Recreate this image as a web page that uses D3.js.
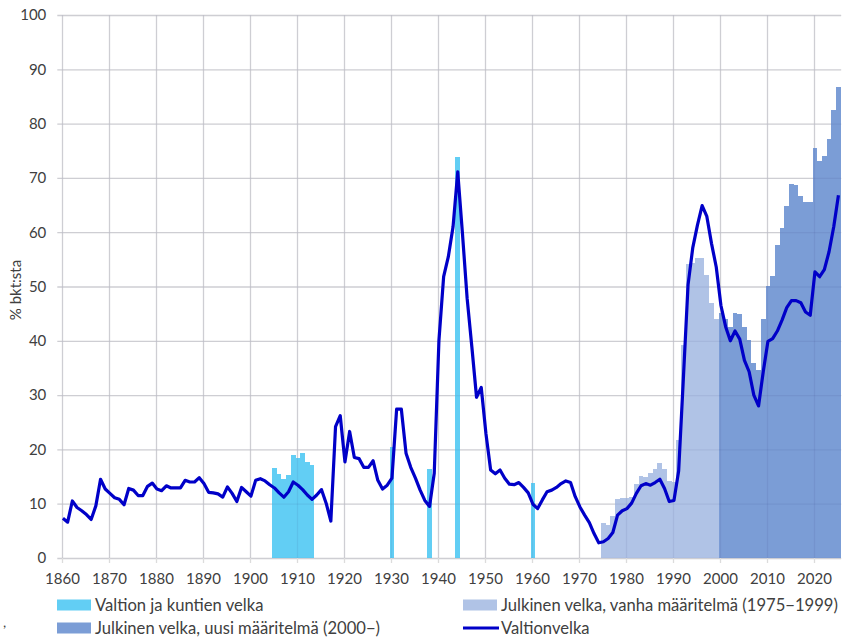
<!DOCTYPE html>
<html>
<head>
<meta charset="utf-8">
<script src="https://cdn.jsdelivr.net/npm/d3@7"></script>
<style>
  body { margin: 0; background: #fff; }
  text { font-family: Lato, "Open Sans", sans-serif; fill: #404040; }
</style>
</head>
<body>
<script>
// valtionvelka, % bkt:sta, 1860-2025
var lineStart = 1860;
var valtionvelka = [
  7.3, 6.6, 10.5, 9.3, 8.7, 8.0, 7.1, 9.6, 14.5, 12.7,
  11.9, 11.1, 10.8, 9.8, 12.8, 12.5, 11.5, 11.5, 13.2, 13.8,
  12.7, 12.4, 13.3, 12.9, 12.9, 12.9, 14.3, 14.0, 14.0, 14.8,
  13.7, 12.1, 12.0, 11.8, 11.2, 13.1, 11.9, 10.4, 13.0, 12.2,
  11.4, 14.3, 14.6, 14.2, 13.5, 12.9, 12.0, 11.2, 12.2, 14.0,
  13.4, 12.6, 11.6, 10.8, 11.6, 12.6, 10.1, 6.8, 24.2, 26.2,
  17.7, 23.3, 18.5, 18.3, 16.7, 16.7, 17.9, 14.3, 12.7, 13.4,
  14.7, 27.4, 27.4, 19.3, 16.7, 14.7, 12.5, 10.6, 9.5, 15.6,
  40.1, 51.8, 55.5, 61.0, 71.1, 59.8, 47.8, 38.9, 29.6, 31.4,
  22.9, 16.2, 15.5, 16.2, 14.7, 13.6, 13.5, 13.9, 13.0, 12.0,
  9.9, 9.1, 10.7, 12.2, 12.5, 13.0, 13.7, 14.2, 13.9, 11.3,
  9.4, 7.9, 6.5, 4.5, 2.8, 3.0, 3.6, 4.7, 7.9, 8.7,
  9.1, 10.1, 11.9, 13.3, 13.7, 13.4, 13.9, 14.5, 12.8, 10.4,
  10.6, 16.0, 33.0, 50.3, 57.1, 61.3, 64.9, 62.9, 57.9, 53.6,
  46.5, 42.6, 40.0, 41.8, 40.3, 36.4, 34.3, 30.0, 28.0, 34.3,
  39.9, 40.4, 41.8, 43.8, 46.1, 47.4, 47.4, 47.0, 45.3, 44.7,
  52.7, 51.8, 53.1, 56.4, 61.0, 66.8
];

// valtion ja kuntien velka
var kuntaYears = [1905, 1906, 1907, 1908, 1909, 1910, 1911, 1912, 1913, 1930, 1938, 1944, 1960];
var kuntaValues = [16.5, 15.5, 14.5, 15.3, 19.0, 18.4, 19.4, 17.7, 17.1, 20.4, 16.4, 73.9, 13.9];

// julkinen velka, vanha määritelmä 1975-1999
var vanhaStart = 1975;
var vanhaValues = [6.4, 6.1, 7.7, 10.9, 11.0, 11.1, 11.3, 13.7, 15.1, 15.0,
  15.7, 16.3, 17.5, 16.3, 14.2, 14.0, 21.7, 39.2, 54.2, 54.3,
  55.2, 55.3, 52.1, 46.9, 44.1];

// julkinen velka, uusi määritelmä 2000-
var uusiStart = 2000;
var uusiValues = [45.1, 44.1, 42.6, 45.2, 44.9, 42.5, 40.1, 36.0, 34.7, 44.1,
  50.1, 52.0, 57.7, 60.8, 64.8, 68.8, 68.7, 66.7, 65.5, 65.5,
  75.5, 73.2, 74.0, 77.1, 82.5, 86.7];

var xTicks = d3.range(1860, 2021, 10);
var yTicks = d3.range(0, 101, 10);

var W = 852, H = 638;
var plotLeft = 57.3, plotRight = 842.2, plotTop = 15, plotBottom = 558;

var x = d3.scaleLinear().domain([1859, 2026]).range([plotLeft, plotRight]);
var y = d3.scaleLinear().domain([0, 100]).range([plotBottom, plotTop]);

var svg = d3.select('body').append('svg')
  .attr('width', W)
  .attr('height', H);

svg.append('rect').attr('width', W).attr('height', H).attr('fill', '#fff');

// gridlines
function drawGrid(g, opacity, color) {
  g.append('g')
    .attr('transform', 'translate(' + plotLeft + ',0)')
    .call(d3.axisLeft(y).tickValues(yTicks).tickSize(-(plotRight - plotLeft - 1)).tickFormat(''))
    .call(function(s) {
      s.select('.domain').remove();
      s.selectAll('line').attr('stroke', color).attr('stroke-opacity', opacity).attr('stroke-width', 1.3);
    });
  g.append('g')
    .attr('transform', 'translate(0,' + plotBottom + ')')
    .call(d3.axisBottom(x).tickValues(xTicks).tickSize(-(plotBottom - plotTop)).tickFormat(''))
    .call(function(s) {
      s.select('.domain').remove();
      s.selectAll('line').attr('stroke', color).attr('stroke-opacity', opacity).attr('stroke-width', 1.3);
    });
}
drawGrid(svg.append('g'), 1, '#dcdcdc');

function bars(data, color) {
  svg.append('g').selectAll('rect')
    .data(data)
    .enter()
    .append('rect')
    .attr('x', function(d) { return x(d.year - 0.3); })
    .attr('width', function(d) { return x(d.year + 0.7) - x(d.year - 0.3); })
    .attr('y', function(d) { return y(d.value); })
    .attr('height', function(d) { return y(0) - y(d.value); })
    .attr('fill', color)
    .attr('shape-rendering', 'crispEdges');
}

bars(kuntaYears.map(function(yr, i) { return { year: yr, value: kuntaValues[i] }; }), '#62cef4');
bars(vanhaValues.map(function(v, i) { return { year: vanhaStart + i, value: v }; }), '#b0c3e6');
bars(uusiValues.map(function(v, i) { return { year: uusiStart + i, value: v }; }), '#7b9dd6');

// faint gridlines over bars
drawGrid(svg.append('g'), 0.07, '#202060');

// axes labels
svg.append('g')
  .attr('transform', 'translate(' + plotLeft + ',0)')
  .call(d3.axisLeft(y).tickValues(yTicks).tickSize(0).tickPadding(11))
  .call(function(s) {
    s.select('.domain').remove();
    s.selectAll('text').style('font-size', '15px').attr('fill', '#333');
  });

svg.append('g')
  .attr('transform', 'translate(0,' + plotBottom + ')')
  .call(d3.axisBottom(x).tickValues(xTicks).tickSize(5).tickPadding(10).tickFormat(d3.format('d')))
  .call(function(s) {
    s.select('.domain').remove();
    s.selectAll('line').attr('stroke', '#dcdcdc').attr('stroke-width', 1.3);
    s.selectAll('text').style('font-size', '15px').attr('fill', '#333');
  });

// valtionvelka line
var lineData = valtionvelka.map(function(v, i) { return { year: lineStart + i, value: v }; });
svg.append('path')
  .datum(lineData)
  .attr('d', d3.line()
    .x(function(d) { return x(d.year + 0.2); })
    .y(function(d) { return y(d.value); }))
  .attr('fill', 'none')
  .attr('stroke', '#0000c8')
  .attr('stroke-width', 3.2)
  .attr('stroke-linejoin', 'round');

// y title
svg.append('text')
  .attr('transform', 'translate(21,290) rotate(-90)')
  .attr('text-anchor', 'middle')
  .style('font-size', '15px')
  .attr('fill', '#333')
  .text('% bkt:sta');

// legend
var legend = [
  { x: 57, y: 605, type: 'rect', color: '#62cef4', label: 'Valtion ja kuntien velka' },
  { x: 463, y: 605, type: 'rect', color: '#b0c3e6', label: 'Julkinen velka, vanha määritelmä (1975\u22121999)' },
  { x: 57, y: 628, type: 'rect', color: '#7b9dd6', label: 'Julkinen velka, uusi määritelmä (2000\u2212)' },
  { x: 463, y: 628, type: 'line', color: '#0000c8', label: 'Valtionvelka' }
];
var lg = svg.append('g').selectAll('g').data(legend).enter().append('g')
  .attr('transform', function(d) { return 'translate(' + d.x + ',' + d.y + ')'; });
lg.filter(function(d) { return d.type === 'rect'; }).append('rect')
  .attr('x', 0).attr('y', -5.5).attr('width', 34).attr('height', 11)
  .attr('fill', function(d) { return d.color; });
lg.filter(function(d) { return d.type === 'line'; }).append('line')
  .attr('x1', 0).attr('x2', 36).attr('y1', 0).attr('y2', 0)
  .attr('stroke', function(d) { return d.color; }).attr('stroke-width', 3);
lg.append('text')
  .attr('x', 38).attr('dy', '0.35em')
  .style('font-size', '16.6px')
  .attr('fill', '#333')
  .text(function(d) { return d.label; });

svg.append('text').attr('x', 3).attr('y', 627).style('font-size', '14px').attr('fill', '#333').text(',');
</script>
</body>
</html>
